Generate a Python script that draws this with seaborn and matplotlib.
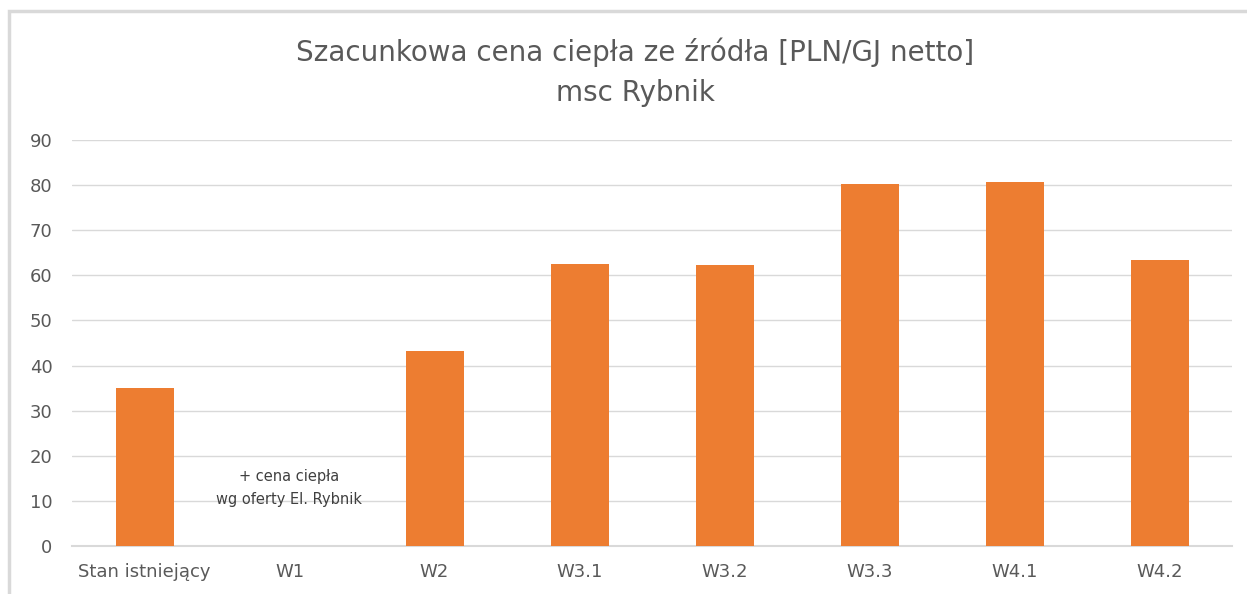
import matplotlib
matplotlib.use("Agg")
import matplotlib.pyplot as plt
import seaborn as sns
import pandas as pd
import numpy as np
from matplotlib.patches import Rectangle

categories = ["Stan istniejący", "W1", "W2", "W3.1", "W3.2", "W3.3", "W4.1", "W4.2"]
values = [35.0, np.nan, 43.2, 62.5, 62.3, 80.3, 80.7, 63.4]
yticks = [0, 10, 20, 30, 40, 50, 60, 70, 80, 90]
title_lines = ["Szacunkowa cena ciepła ze źródła [PLN/GJ netto]", "msc Rybnik"]
note_text = "+ cena ciepła\nwg oferty El. Rybnik"

sns.set_theme(style="white")
plt.rcParams['font.family'] = ['DejaVu Sans']

df = pd.DataFrame({"cat": categories, "val": values})

fig = plt.figure(figsize=(12.47, 5.94), dpi=100)
ax = fig.add_axes([72/1247, 48/594, 1160/1247, 406/594])

sns.barplot(data=df, x="cat", y="val", color="#ED7D31", width=0.4, ax=ax,
            saturation=1, order=categories, zorder=3, linewidth=0)

ax.set_ylim(0, 90)
ax.set_yticks(yticks)
ax.set_xlim(-0.5, len(categories) - 0.5)
ax.yaxis.grid(True, color="#d9d9d9", linewidth=1, zorder=0)
ax.set_axisbelow(True)
for s in ["top", "right", "left"]:
    ax.spines[s].set_visible(False)
ax.spines["bottom"].set_color("#d9d9d9")
ax.spines["bottom"].set_linewidth(1.5)
ax.tick_params(axis="y", length=0, pad=14, labelsize=13, labelcolor="#595959")
ax.tick_params(axis="x", length=0, pad=12, labelsize=13, labelcolor="#595959")
ax.set_xlabel("")
ax.set_ylabel("")

ax.text(1, 12.8, note_text, ha="center", va="center", fontsize=10.5,
        color="#404040", linespacing=1.7)

fig.text(635/1247, 1 - 52/594, title_lines[0], ha="center", va="center",
         fontsize=20, color="#595959")
fig.text(635/1247, 1 - 93/594, title_lines[1], ha="center", va="center",
         fontsize=20, color="#595959")

# chart frame
fig.patches.append(Rectangle((9/1247, -0.1), 1.2, 1 - 11/594 + 0.1,
                             transform=fig.transFigure, fill=False,
                             edgecolor="#d9d9d9", linewidth=2.5))

fig.savefig("out.png", dpi=100)
